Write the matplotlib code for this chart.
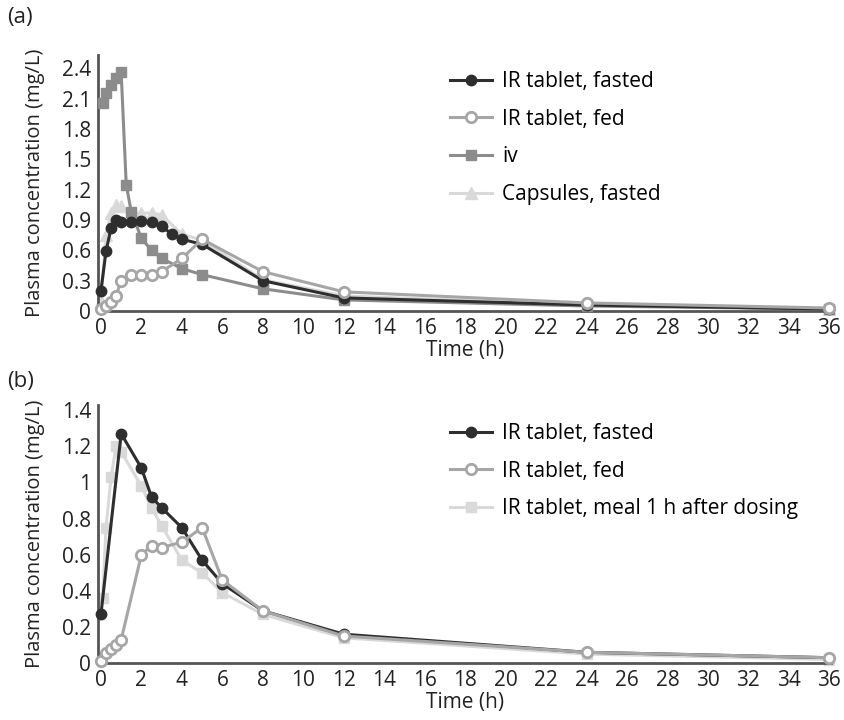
import matplotlib.pyplot as plt

plt.rcParams["font.family"] = ["Open Sans", "DejaVu Sans"]
plt.rcParams["font.size"] = 14

# panel (a)
t_a_fasted = [0, 0.25, 0.5, 0.75, 1, 1.5, 2, 2.5, 3, 3.5, 4, 5, 8, 12, 24, 36]
c_a_fasted = [0.2, 0.59, 0.82, 0.9, 0.88, 0.88, 0.89, 0.88, 0.84, 0.76, 0.71, 0.66, 0.3, 0.13, 0.06, 0.02]
t_a_fed = [0, 0.25, 0.5, 0.75, 1, 1.5, 2, 2.5, 3, 4, 5, 8, 12, 24, 36]
c_a_fed = [0.02, 0.05, 0.09, 0.15, 0.3, 0.36, 0.36, 0.36, 0.39, 0.52, 0.71, 0.39, 0.19, 0.08, 0.03]
t_a_iv = [0.08, 0.25, 0.5, 0.75, 1, 1.25, 1.5, 2, 2.5, 3, 4, 5, 8, 12, 24, 36]
c_a_iv = [2.06, 2.16, 2.24, 2.3, 2.36, 1.25, 0.98, 0.72, 0.6, 0.52, 0.42, 0.36, 0.22, 0.11, 0.05, 0.02]
t_a_caps = [0, 0.25, 0.5, 0.75, 1, 1.5, 2, 2.5, 3, 4, 5, 8, 12, 24, 36]
c_a_caps = [0.1, 0.75, 0.97, 1.05, 1.04, 0.97, 0.97, 0.97, 0.95, 0.76, 0.7, 0.31, 0.15, 0.06, 0.02]

# panel (b)
t_b_fasted = [0, 1, 2, 2.5, 3, 4, 5, 6, 8, 12, 24, 36]
c_b_fasted = [0.27, 1.27, 1.08, 0.92, 0.86, 0.75, 0.57, 0.44, 0.29, 0.16, 0.06, 0.03]
t_b_fed = [0, 0.25, 0.5, 0.75, 1, 2, 2.5, 3, 4, 5, 6, 8, 12, 24, 36]
c_b_fed = [0.01, 0.055, 0.08, 0.1, 0.13, 0.6, 0.65, 0.64, 0.67, 0.75, 0.46, 0.29, 0.15, 0.06, 0.03]
t_b_meal = [0.08, 0.25, 0.5, 0.75, 1, 2, 2.5, 3, 4, 5, 6, 8, 12, 24, 36]
c_b_meal = [0.36, 0.75, 1.03, 1.2, 1.17, 0.98, 0.86, 0.76, 0.57, 0.5, 0.39, 0.27, 0.14, 0.05, 0.02]

xticks = list(range(0, 37, 2))
yticks_a = [0, 0.3, 0.6, 0.9, 1.2, 1.5, 1.8, 2.1, 2.4]
yticklabels_a = ["0", "0.3", "0.6", "0.9", "1.2", "1.5", "1.8", "2.1", "2.4"]
yticks_b = [0, 0.2, 0.4, 0.6, 0.8, 1, 1.2, 1.4]
yticklabels_b = ["0", "0.2", "0.4", "0.6", "0.8", "1", "1.2", "1.4"]

dark = "#2e2e2e"
fedc = "#a6a6a6"
ivc = "#8c8c8c"
light = "#d9d9d9"
spine_c = "#555555"
txt = "#222222"

fig = plt.figure(figsize=(8.44, 7.2), dpi=100)
ax1 = fig.add_axes([0.116, 0.568, 0.869, 0.356])
ax2 = fig.add_axes([0.116, 0.079, 0.869, 0.358])


def style(ax, ymax, yt, ytl):
    ax.set_xlim(-0.15, 36.1)
    ax.set_ylim(0, ymax)
    ax.set_xticks(xticks)
    ax.set_yticks(yt)
    ax.set_yticklabels(ytl)
    ax.tick_params(length=0, labelsize=15, colors=txt, pad=5)
    for s in ["top", "right"]:
        ax.spines[s].set_visible(False)
    for s in ["left", "bottom"]:
        ax.spines[s].set_color(spine_c)
        ax.spines[s].set_linewidth(2)
    ax.set_xlabel("Time (h)", fontsize=15, color=txt, labelpad=1)
    ax.set_ylabel("Plasma concentration (mg/L)", fontsize=14.5, color=txt, labelpad=12)


def legend(ax, order, top_px):
    h, l = ax.get_legend_handles_labels()
    ax.legend([h[i] for i in order], [l[i] for i in order], loc="upper left",
              bbox_to_anchor=(450 / 844, 1 - top_px / 720), bbox_transform=fig.transFigure,
              frameon=False, handlelength=2.0, handletextpad=0.5, labelspacing=0.8,
              borderaxespad=0, borderpad=0, fontsize=15)


lw = 2.2
ms = 7.5
# (a)
ax1.plot(t_a_caps, c_a_caps, "-^", color=light, lw=lw, ms=ms + 1, label="Capsules, fasted", clip_on=False, zorder=2)
ax1.plot(t_a_iv, c_a_iv, "-s", color=ivc, lw=lw, ms=ms, label="iv", clip_on=False, zorder=3)
ax1.plot(t_a_fasted, c_a_fasted, "-o", color=dark, lw=lw, ms=ms, label="IR tablet, fasted", clip_on=False, zorder=4)
ax1.plot(t_a_fed, c_a_fed, "-o", color=fedc, mfc="white", mec=fedc, mew=2, lw=lw, ms=ms,
         label="IR tablet, fed", clip_on=False, zorder=5)
style(ax1, 2.535, yticks_a, yticklabels_a)
legend(ax1, [2, 3, 1, 0], 71)

# (b)
ax2.plot(t_b_meal, c_b_meal, "-s", color=light, lw=lw, ms=ms, label="IR tablet, meal 1 h after dosing",
         clip_on=False, zorder=2)
ax2.plot(t_b_fasted, c_b_fasted, "-o", color=dark, lw=lw, ms=ms, label="IR tablet, fasted", clip_on=False, zorder=4)
ax2.plot(t_b_fed, c_b_fed, "-o", color=fedc, mfc="white", mec=fedc, mew=2, lw=lw, ms=ms,
         label="IR tablet, fed", clip_on=False, zorder=5)
style(ax2, 1.427, yticks_b, yticklabels_b)
legend(ax2, [1, 2, 0], 423)

fig.text(0.008, 1 - 18 / 720, "(a)", fontsize=16, color=txt, va="center")
fig.text(0.008, 1 - 382 / 720, "(b)", fontsize=16, color=txt, va="center")

fig.savefig("out.png", dpi=100)
